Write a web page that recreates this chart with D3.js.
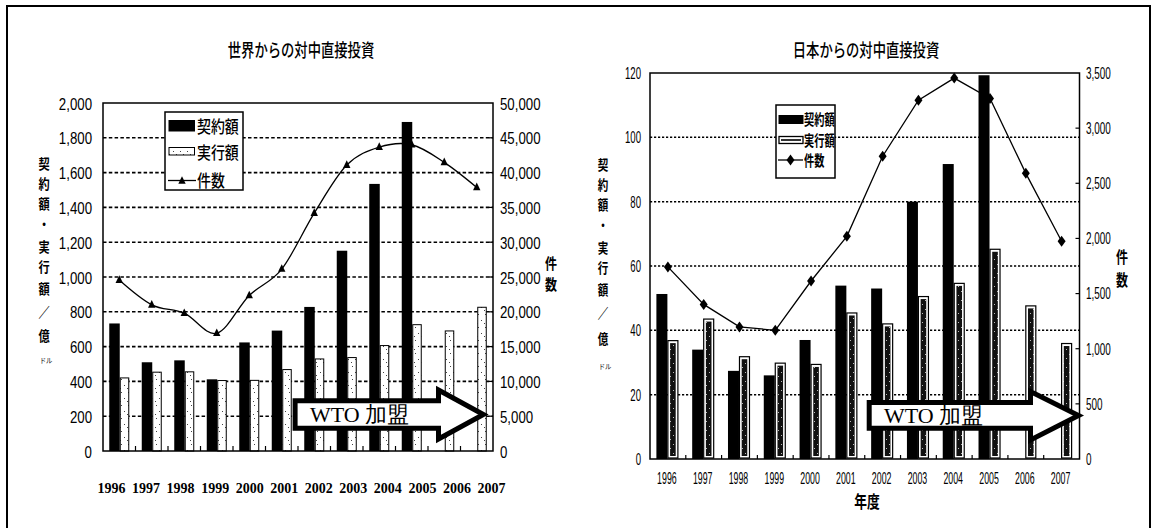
<!DOCTYPE html>
<html><head><meta charset="utf-8">
<script src="https://cdn.jsdelivr.net/npm/d3@7"></script>
<style>
html,body{margin:0;padding:0;background:#fff;}
svg{display:block;}
</style></head><body>
<svg id="chart" width="1152" height="528"></svg>
<script>
// 年度
const years = ["1996","1997","1998","1999","2000","2001","2002","2003","2004","2005","2006","2007"];

// 世界からの対中直接投資（億ドル・件）
const worldContract = [733, 510, 521, 412, 624, 692, 828, 1151, 1535, 1891, null, null];
const worldActual   = [420, 453, 455, 405, 406, 468, 529, 537, 606, 726, 690, 826];
const worldCases    = [24556, 21001, 19799, 16918, 22347, 26140, 34171, 41081, 43664, 44001, 41473, 37871];

// 日本からの対中直接投資（億ドル・件）
const japanContract = [51.3, 34.0, 27.4, 26.0, 37.0, 53.9, 53.0, 80.0, 91.7, 119.3, null, null];
const japanActual   = [36.8, 43.5, 31.8, 29.8, 29.4, 45.4, 42.0, 50.5, 54.6, 65.2, 47.6, 35.9];
const japanCases    = [1742, 1402, 1198, 1167, 1614, 2019, 2745, 3254, 3454, 3269, 2590, 1974];

// 軸目盛
const worldAmountTicks = d3.range(0, 2001, 200);
const worldCaseTicks   = d3.range(0, 50001, 5000);
const japanAmountTicks = d3.range(0, 121, 20);
const japanCaseTicks   = d3.range(0, 3501, 500);

const legendLabels = ["契約額", "実行額", "件数"];
const amountTitle = ["契","約","額","・","実","行","額","／","億"];

const JP = "'Noto Sans CJK JP','Noto Sans CJK SC',sans-serif";
const NUM = "'Liberation Sans',Arial,sans-serif";
const SERIF = "'Liberation Serif','Times New Roman',serif";

const svg = d3.select("#chart");
const defs = svg.append("defs");

// sparse stipple used inside the world "actual" bars
const stip = defs.append("pattern").attr("id", "stipple")
  .attr("patternUnits", "userSpaceOnUse").attr("width", 7).attr("height", 13);
stip.append("rect").attr("width", 7).attr("height", 13).attr("fill", "#fff");
[[2, 2], [5, 8], [1, 11]].forEach(([x, y]) =>
  stip.append("rect").attr("x", x).attr("y", y).attr("width", 1).attr("height", 1).attr("fill", "#444"));

// speckled dark fill used inside the Japan "actual" bars
const speck = defs.append("pattern").attr("id", "speck")
  .attr("patternUnits", "userSpaceOnUse").attr("width", 6).attr("height", 9);
speck.append("rect").attr("width", 6).attr("height", 9).attr("fill", "#111");
[[1, 3], [4, 7]].forEach(([x, y]) =>
  speck.append("rect").attr("x", x).attr("y", y).attr("width", 1).attr("height", 1).attr("fill", "#bbb"));

function label(g, x, y, txt, o) {
  return g.append("text")
    .attr("transform", `translate(${x},${y}) scale(${o.sx || 1},1)`)
    .attr("text-anchor", o.anchor || "middle")
    .attr("dominant-baseline", "central")
    .style("font-family", o.font || JP)
    .style("font-size", o.size + "px")
    .style("font-weight", o.weight || 400)
    .attr("fill", "#000")
    .text(txt);
}

function styleAxis(g, o) {
  g.select(".domain").remove();
  g.selectAll(".tick line").remove();
  g.selectAll(".tick text")
    .attr("x", 0).attr("y", 0).attr("dy", null)
    .attr("dominant-baseline", "central")
    .attr("transform", `scale(${o.sx},1)`)
    .attr("text-anchor", o.anchor)
    .style("font-family", o.font || NUM)
    .style("font-size", o.size + "px")
    .style("font-weight", o.weight || 400)
    .attr("fill", "#000");
}

// outer frame
svg.append("path").attr("d", "M7,528 V6 H1150 V528")
  .attr("fill", "none").attr("stroke", "#000").attr("stroke-width", 2);

/* ---------------- 世界からの対中直接投資 ---------------- */
{
  const g = svg.append("g");
  const x = d3.scaleBand().domain(years).range([103, 493]);
  const yA = d3.scaleLinear().domain([0, 2000]).range([451, 103]);
  const yC = d3.scaleLinear().domain([0, 50000]).range([451, 103]);
  const sub = d3.scaleBand().domain(["contract", "actual"]).range([-10, 10]);
  const cx = d => x(d) + x.bandwidth() / 2;

  // dashed grid
  g.append("g").selectAll("line").data(worldAmountTicks.filter(v => v > 0 && v < 2000)).join("line")
    .attr("x1", 103).attr("x2", 493).attr("y1", d => yA(d)).attr("y2", d => yA(d))
    .attr("stroke", "#000").attr("stroke-width", 1.6).attr("stroke-dasharray", "3.5,2.3");

  // bars
  g.append("g").selectAll("rect").data(years.map((y, i) => ({ y, v: worldContract[i] })).filter(d => d.v != null)).join("rect")
    .attr("x", d => cx(d.y) + sub("contract")).attr("width", sub.bandwidth() + 0.5)
    .attr("y", d => yA(d.v)).attr("height", d => yA(0) - yA(d.v)).attr("fill", "#000");
  g.append("g").selectAll("rect").data(years.map((y, i) => ({ y, v: worldActual[i] }))).join("rect")
    .attr("x", d => cx(d.y) + sub("actual") + 1).attr("width", sub.bandwidth() - 1.5)
    .attr("y", d => yA(d.v)).attr("height", d => yA(0) - yA(d.v))
    .attr("fill", "url(#stipple)").attr("stroke", "#000").attr("stroke-width", 1);

  // category ticks along the base
  g.append("g").selectAll("line").data(years.slice(1)).join("line")
    .attr("x1", d => x(d)).attr("x2", d => x(d)).attr("y1", 451).attr("y2", 446)
    .attr("stroke", "#000").attr("stroke-width", 1.2);

  // plot frame
  g.append("rect").attr("x", 103).attr("y", 103).attr("width", 390).attr("height", 348)
    .attr("fill", "none").attr("stroke", "#000").attr("stroke-width", 1.5);
  g.append("g").selectAll("line").data(worldCaseTicks.slice(1, -1)).join("line")
    .attr("x1", 489).attr("x2", 493).attr("y1", d => yC(d)).attr("y2", d => yC(d))
    .attr("stroke", "#000").attr("stroke-width", 1.2);

  // WTO 加盟 arrow
  g.append("path")
    .attr("d", "M295.1,400.8 H438.5 V390 L483.4,414.5 L438.5,439 V428.2 H295.1 Z")
    .attr("fill", "#fff").attr("stroke", "#000").attr("stroke-width", 5).attr("stroke-linejoin", "miter");
  g.append("text").attr("x", 310).attr("y", 422)
    .style("font-family", SERIF).style("font-size", "22px").text("WTO 加盟");

  // 件数 line
  const line = d3.line().x((d, i) => cx(years[i])).y(d => yC(d)).curve(d3.curveCardinal.tension(0));
  g.append("path").attr("d", line(worldCases)).attr("fill", "none").attr("stroke", "#000").attr("stroke-width", 1.3);
  g.append("g").selectAll("path").data(worldCases).join("path")
    .attr("transform", (d, i) => `translate(${cx(years[i])},${yC(d)})`)
    .attr("d", "M0,-4.8 L3.7,2.8 L-3.7,2.8 Z").attr("fill", "#000");

  // axes
  g.append("g").attr("transform", "translate(92,0)")
    .call(d3.axisLeft(yA).tickValues(worldAmountTicks).tickFormat(d3.format(",")).tickSize(0))
    .call(a => styleAxis(a, { sx: 0.78, anchor: "end", size: 17 }));
  g.append("g").attr("transform", "translate(500,0)")
    .call(d3.axisRight(yC).tickValues(worldCaseTicks).tickFormat(d3.format(",")).tickSize(0))
    .call(a => styleAxis(a, { sx: 0.78, anchor: "start", size: 17 }));
  const xl = d3.scalePoint().domain(years).range([111, 491]);
  g.append("g").attr("transform", "translate(0,488)")
    .call(d3.axisBottom(xl).tickSize(0))
    .call(a => styleAxis(a, { sx: 1, anchor: "middle", size: 14, font: SERIF, weight: 700 }));

  // titles
  label(g, 301, 50, "世界からの対中直接投資", { size: 18, sx: 0.74, weight: 500 });
  const ty = [163, 183, 203, 223, 246, 266, 288, 311, 335];
  amountTitle.forEach((c, i) => label(g, 44, ty[i], c, { size: 14, sx: 0.8, weight: 700 }));
  label(g, 46, 360, "ドル", { size: 7, sx: 0.9 });
  label(g, 551, 262, "件", { size: 15, sx: 0.8, weight: 700 });
  label(g, 551, 283, "数", { size: 15, sx: 0.8, weight: 700 });

  // legend
  const lg = g.append("g");
  lg.append("rect").attr("x", 165).attr("y", 112).attr("width", 78).attr("height", 78)
    .attr("fill", "#fff").attr("stroke", "#000").attr("stroke-width", 1.5);
  lg.append("rect").attr("x", 168.5).attr("y", 120).attr("width", 26.5).attr("height", 11.5).attr("fill", "#000");
  lg.append("rect").attr("x", 169).attr("y", 147.5).attr("width", 25.5).attr("height", 7.5)
    .attr("fill", "url(#stipple)").attr("stroke", "#000").attr("stroke-width", 1);
  lg.append("line").attr("x1", 168).attr("x2", 196).attr("y1", 180.5).attr("y2", 180.5)
    .attr("stroke", "#000").attr("stroke-width", 1.3);
  lg.append("path").attr("transform", "translate(182,181)").attr("d", "M0,-4.8 L3.7,2.8 L-3.7,2.8 Z").attr("fill", "#000");
  [125.5, 151.5, 179].forEach((yy, i) => label(lg, 197, yy, legendLabels[i], { size: 17, sx: 0.82, anchor: "start", weight: 500 }));
}

/* ---------------- 日本からの対中直接投資 ---------------- */
{
  const g = svg.append("g");
  const x = d3.scaleBand().domain(years).range([650, 1079.5]);
  const yA = d3.scaleLinear().domain([0, 120]).range([459, 73]);
  const yC = d3.scaleLinear().domain([0, 3500]).range([459, 73]);
  const sub = d3.scaleBand().domain(["contract", "actual"]).range([-11.5, 10.5]);
  const cx = d => x(d) + x.bandwidth() / 2;

  // dotted grid
  g.append("g").selectAll("line").data(japanAmountTicks.filter(v => v > 0 && v < 120)).join("line")
    .attr("x1", 650).attr("x2", 1079.5).attr("y1", d => yA(d)).attr("y2", d => yA(d))
    .attr("stroke", "#000").attr("stroke-width", 1.5).attr("stroke-dasharray", "2.2,1.8");

  // bars
  g.append("g").selectAll("rect").data(years.map((y, i) => ({ y, v: japanContract[i] })).filter(d => d.v != null)).join("rect")
    .attr("x", d => cx(d.y) + sub("contract")).attr("width", sub.bandwidth())
    .attr("y", d => yA(d.v)).attr("height", d => yA(0) - yA(d.v)).attr("fill", "#000");
  const act = g.append("g").selectAll("g").data(years.map((y, i) => ({ y, v: japanActual[i] }))).join("g");
  act.append("rect")
    .attr("x", d => cx(d.y) + sub("actual") + 0.5).attr("width", sub.bandwidth() - 1)
    .attr("y", d => yA(d.v)).attr("height", d => yA(0) - yA(d.v) - 1)
    .attr("fill", "#fff").attr("stroke", "#000").attr("stroke-width", 1.2);
  act.append("rect")
    .attr("x", d => cx(d.y) + sub("actual") + 2.7).attr("width", sub.bandwidth() - 5.4)
    .attr("y", d => yA(d.v) + 2.5).attr("height", d => yA(0) - yA(d.v) - 5.5)
    .attr("fill", "url(#speck)");

  // category ticks along the base
  g.append("g").selectAll("line").data(years.slice(1)).join("line")
    .attr("x1", d => x(d)).attr("x2", d => x(d)).attr("y1", 459).attr("y2", 455)
    .attr("stroke", "#000").attr("stroke-width", 1.2);

  // plot frame
  g.append("rect").attr("x", 650).attr("y", 73).attr("width", 429.5).attr("height", 386)
    .attr("fill", "none").attr("stroke", "#000").attr("stroke-width", 1.5);
  g.append("g").selectAll("line").data(japanCaseTicks.slice(1, -1)).join("line")
    .attr("x1", 1075.5).attr("x2", 1079.5).attr("y1", d => yC(d)).attr("y2", d => yC(d))
    .attr("stroke", "#000").attr("stroke-width", 1.2);

  // WTO 加盟 arrow
  g.append("path")
    .attr("d", "M869.2,402.5 H1030.5 V391.5 L1078.5,415.5 L1030.5,440 V428.2 H869.2 Z")
    .attr("fill", "#fff").attr("stroke", "#000").attr("stroke-width", 5).attr("stroke-linejoin", "miter");
  g.append("text").attr("x", 884).attr("y", 423)
    .style("font-family", SERIF).style("font-size", "22px").text("WTO 加盟");

  // 件数 line
  const line = d3.line().x((d, i) => cx(years[i])).y(d => yC(d));
  g.append("path").attr("d", line(japanCases)).attr("fill", "none").attr("stroke", "#000").attr("stroke-width", 1.3);
  g.append("g").selectAll("path").data(japanCases).join("path")
    .attr("transform", (d, i) => `translate(${cx(years[i])},${yC(d)})`)
    .attr("d", "M0,-5.5 L4,0 L0,5.5 L-4,0 Z").attr("fill", "#000");

  // axes
  g.append("g").attr("transform", "translate(641,0)")
    .call(d3.axisLeft(yA).tickValues(japanAmountTicks).tickSize(0))
    .call(a => styleAxis(a, { sx: 0.6, anchor: "end", size: 16 }));
  g.append("g").attr("transform", "translate(1086,0)")
    .call(d3.axisRight(yC).tickValues(japanCaseTicks).tickFormat(d3.format(",")).tickSize(0))
    .call(a => styleAxis(a, { sx: 0.62, anchor: "start", size: 16 }));
  g.append("g").attr("transform", "translate(-1,478)")
    .call(d3.axisBottom(x).tickSize(0))
    .call(a => styleAxis(a, { sx: 0.55, anchor: "middle", size: 16 }));

  // titles
  label(g, 866, 50, "日本からの対中直接投資", { size: 18, sx: 0.74, weight: 500 });
  const ty = [164, 184, 204, 224, 247, 267, 289, 312, 338];
  amountTitle.forEach((c, i) => label(g, 603, ty[i], c, { size: 14, sx: 0.75, weight: 700 }));
  label(g, 605, 366, "ドル", { size: 7, sx: 0.9 });
  label(g, 1122, 256, "件", { size: 16, sx: 0.75, weight: 700 });
  label(g, 1122, 279, "数", { size: 16, sx: 0.75, weight: 700 });
  label(g, 867, 501, "年度", { size: 17, sx: 0.75, weight: 700 });

  // legend
  const lg = g.append("g");
  lg.append("rect").attr("x", 776).attr("y", 105).attr("width", 59).attr("height", 73)
    .attr("fill", "#fff").attr("stroke", "#000").attr("stroke-width", 1.5);
  lg.append("rect").attr("x", 778.5).attr("y", 115).attr("width", 25).attr("height", 9).attr("fill", "#000");
  lg.append("rect").attr("x", 779).attr("y", 136.5).attr("width", 24).attr("height", 7)
    .attr("fill", "#fff").attr("stroke", "#000").attr("stroke-width", 1.3);
  lg.append("line").attr("x1", 781).attr("x2", 801).attr("y1", 140).attr("y2", 140)
    .attr("stroke", "#000").attr("stroke-width", 1.6);
  lg.append("line").attr("x1", 778).attr("x2", 803).attr("y1", 160).attr("y2", 160)
    .attr("stroke", "#000").attr("stroke-width", 1.3);
  lg.append("path").attr("transform", "translate(790.5,160)").attr("d", "M0,-5.5 L4,0 L0,5.5 L-4,0 Z").attr("fill", "#000");
  [118.5, 139.5, 160].forEach((yy, i) => label(lg, 804, yy, legendLabels[i], { size: 15, sx: 0.68, anchor: "start", weight: 700 }));
}
</script>
</body></html>
